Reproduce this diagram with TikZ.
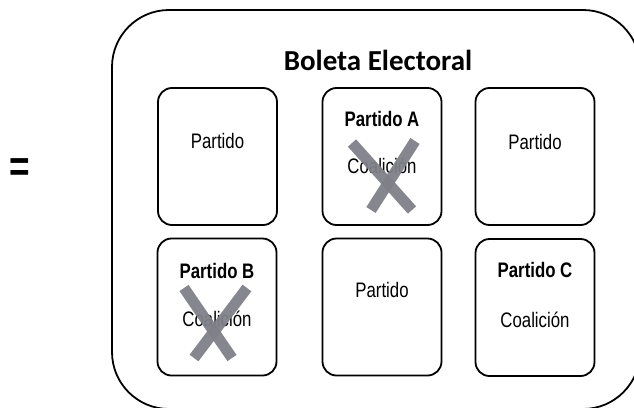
\documentclass[tikz,border=0pt]{standalone}
\usepackage{fontspec}
\usepackage{tikz}
\usetikzlibrary{positioning}
\newfontfamily\partfont[FakeStretch=0.8]{Liberation Sans}
\newfontfamily\titlefont{Carlito}
\definecolor{crossgray}{RGB}{128,128,136}
\tikzset{casilla/.style={draw, line width=1.8pt, rounded corners=14pt, minimum width=119pt, minimum height=137pt, inner sep=0pt}, texto/.style={font=\partfont\fontsize{21}{24}\selectfont, inner sep=0pt}, negrita/.style={font=\partfont\bfseries\fontsize{21}{24}\selectfont, inner sep=0pt}, cruz/.style={draw=crossgray, line width=11pt, opacity=.95}}

\begin{document}
\begin{tikzpicture}[x=1pt,y=-1pt]
                 \useasboundingbox(0,0)rectangle(634,407);
                 \begin{scope}
                 \clip(0,0)rectangle(634,407);
                 \draw[line width=1.8pt, rounded corners=57pt](112,10)rectangle(640,409);
                 \end{scope}
                 \node[font=\titlefont\bfseries\fontsize{29}{32}\selectfont, inner sep=0pt](titulo)at(378,60){Boleta Electoral};
                 \node[font=\partfont\bfseries\fontsize{44}{46}\selectfont, inner sep=0pt](igual)at(20,170){=};
                 \node[casilla](p1)at(217.5,156.5){};
                 \node[casilla](p2)at(382,156.5){};
                 \node[casilla](p3)at(535,156.5){};
                 \node[casilla](p4)at(217,307){};
                 \node[casilla](p5)at(382,307){};
                 \node[casilla](p6)at(535,307.5){};
                 \node[texto](t1)at(217.5,141){Partido};
                 \node[negrita](t2)at(382,119){Partido A};
                 \node[texto](c2)at(382,166){Coalición};
                 \node[texto](t3)at(535,142){Partido};
                 \node[negrita](t4)at(217,271){Partido B};
                 \node[texto](c4)at(217,319){Coalición};
                 \node[texto](t5)at(382,290){Partido};
                 \node[negrita](t6)at(535,270){Partido C};
                 \node[texto](c6)at(535,320){Coalición};
                 \draw[cruz](352,143)--(412,210);
                 \draw[cruz](415,141)--(371,210);
                 \draw[cruz](184,288)--(232,358);
                 \draw[cruz](247,288)--(194,358);
             \end{tikzpicture}
\end{document}
